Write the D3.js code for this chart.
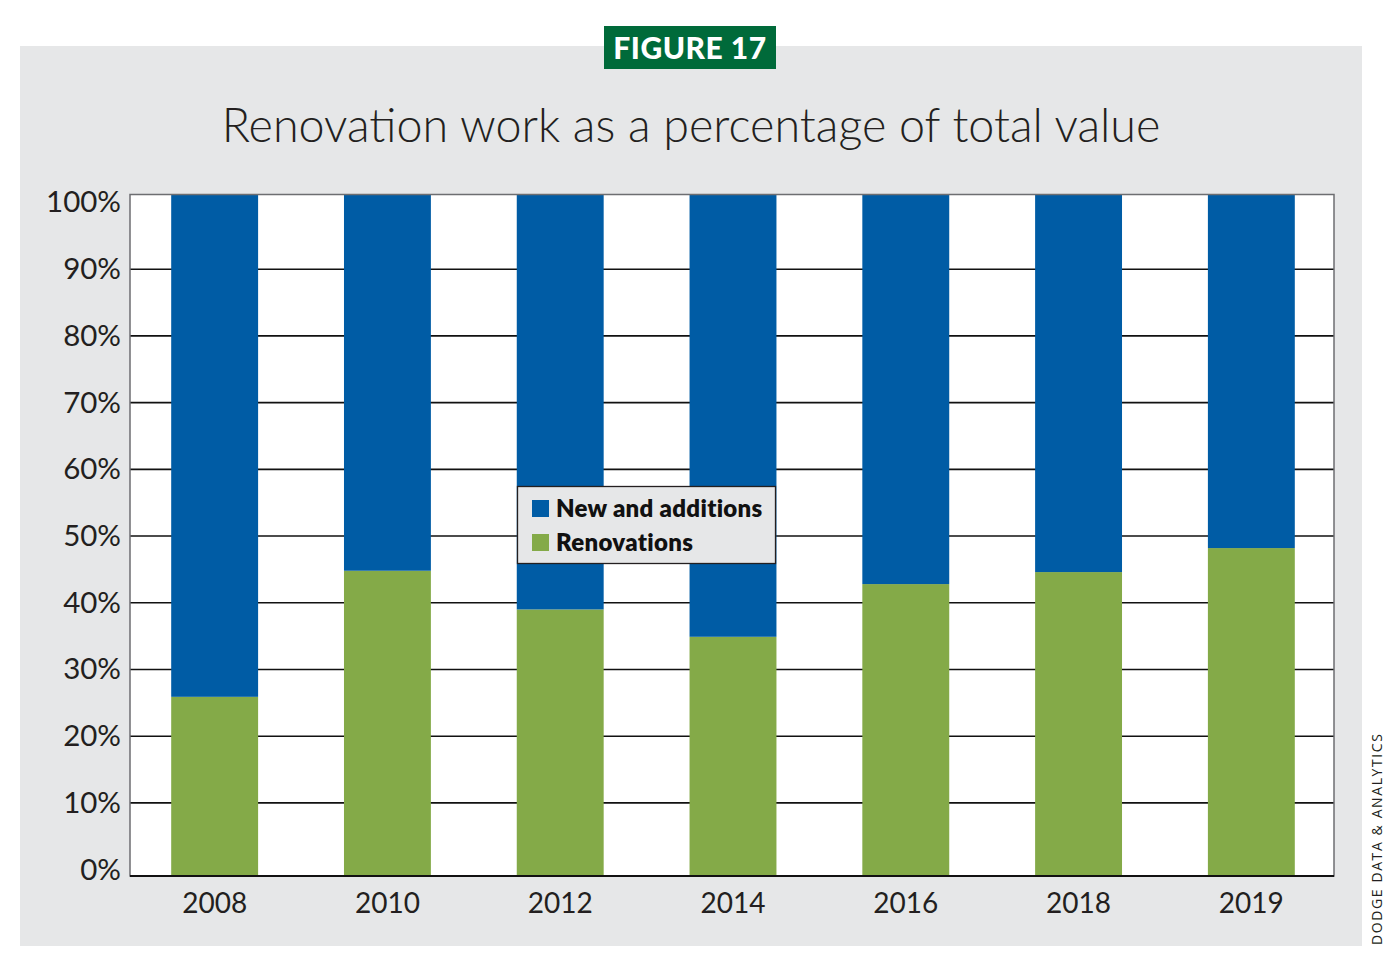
<!DOCTYPE html>
<html><head><meta charset="utf-8">
<script src="https://cdn.jsdelivr.net/npm/d3@7"></script>
<style>body{margin:0;background:#fff;}svg{display:block;}</style>
</head><body>
<svg id="chart" width="1400" height="965"></svg>
<script>
const years = ["2008","2010","2012","2014","2016","2018","2019"];
const renovations = [25.9, 44.8, 39.0, 34.9, 42.8, 44.6, 48.2];
const newAndAdditions = renovations.map(v => 100 - v);
const yTicks = [0,10,20,30,40,50,60,70,80,90,100];
const seriesNames = ["New and additions","Renovations"];
const seriesColors = ["#005ca5","#84aa48"];

(function(){
const svg = d3.select("#chart");
const W = 1400, H = 965;
svg.append("rect").attr("x",0).attr("y",0).attr("width",W).attr("height",H).attr("fill","#fff");
svg.append("rect").attr("x",20).attr("y",46).attr("width",1342).attr("height",900).attr("fill","#e6e7e8");

// badge
svg.append("rect").attr("x",604).attr("y",26).attr("width",172).attr("height",43).attr("fill","#006a3a");
svg.append("text").attr("x",690).attr("y",59).attr("text-anchor","middle")
  .attr("font-family","Lato, 'Open Sans', sans-serif").attr("font-weight",900)
  .attr("font-size",30).attr("fill","#fff").attr("letter-spacing","0.5").text("FIGURE 17");

// title
svg.append("text").attr("x",691).attr("y",142).attr("text-anchor","middle")
  .attr("font-family","Lato, sans-serif").attr("font-weight",300)
  .attr("font-size",46.7).attr("fill","#231f20").text("Renovation work as a percentage of total value");

const pL = 130, pR = 1334, pT = 194.5, pB = 876;
const x = d3.scaleBand().domain(years).range([128, 1338]).paddingInner(0.497).paddingOuter(0.25);
const y = d3.scaleLinear().domain([-0.96, 101.2]).range([pB, pT]);

const g = svg.append("g");
g.append("rect").attr("x",pL).attr("y",pT).attr("width",pR-pL).attr("height",pB-pT).attr("fill","#fff");

// gridlines
g.append("g").selectAll("line").data(yTicks.filter(t => t>0 && t<100)).join("line")
  .attr("x1",pL).attr("x2",pR).attr("y1",d=>y(d)).attr("y2",d=>y(d))
  .attr("stroke","#111").attr("stroke-width",1.6);

// bars
const bars = g.append("g");
bars.selectAll("rect.ren").data(years).join("rect").attr("class","ren")
  .attr("x",d=>x(d)).attr("width",x.bandwidth())
  .attr("y",(d,i)=>y(renovations[i])).attr("height",(d,i)=>y(y.domain()[0]) - y(renovations[i]))
  .attr("fill",seriesColors[1]);
bars.selectAll("rect.new").data(years).join("rect").attr("class","new")
  .attr("x",d=>x(d)).attr("width",x.bandwidth())
  .attr("y",y(y.domain()[1])).attr("height",(d,i)=>y(renovations[i]) - y(y.domain()[1]))
  .attr("fill",seriesColors[0]);

// frame
g.append("rect").attr("x",pL).attr("y",pT).attr("width",pR-pL).attr("height",pB-pT)
  .attr("fill","none").attr("stroke","#6d6e71").attr("stroke-width",1.5);
g.append("line").attr("x1",pL).attr("x2",pR).attr("y1",pB).attr("y2",pB)
  .attr("stroke","#111").attr("stroke-width",1.8);

// y axis labels
const yAxis = d3.axisLeft(y).tickValues(yTicks).tickFormat(d=>d+"%").tickSize(0).tickPadding(9);
const ya = svg.append("g").attr("transform",`translate(${pL},0)`).call(yAxis);
ya.select(".domain").remove();
ya.selectAll("text").attr("font-family","Lato, sans-serif").attr("font-size",29.5).attr("fill","#231f20");

// x axis labels
const xAxis = d3.axisBottom(x).tickSize(0).tickPadding(17);
const xa = svg.append("g").attr("transform",`translate(0,${pB})`).call(xAxis);
xa.select(".domain").remove();
xa.selectAll("text").attr("font-family","Lato, sans-serif").attr("font-size",28).attr("fill","#231f20");

// legend
const lg = svg.append("g");
lg.append("rect").attr("x",517.5).attr("y",486.5).attr("width",258).attr("height",77)
  .attr("fill","#e6e7e8").attr("stroke","#231f20").attr("stroke-width",1.3);
seriesNames.forEach((n,i)=>{
  lg.append("rect").attr("x",532).attr("y",500+i*34).attr("width",17).attr("height",17).attr("fill",seriesColors[i]);
  lg.append("text").attr("x",556).attr("y",517+i*34).attr("font-family","Lato, sans-serif")
    .attr("font-weight",800).attr("font-size",24).attr("letter-spacing","0.3").attr("fill","#111").text(n);
});

// credit
svg.append("text").attr("transform","translate(1382,945) rotate(-90)")
  .attr("font-family","'Open Sans', sans-serif").attr("font-size",14).attr("letter-spacing","1.6")
  .attr("fill","#231f20").text("DODGE DATA & ANALYTICS");
})();
</script>
</body></html>
